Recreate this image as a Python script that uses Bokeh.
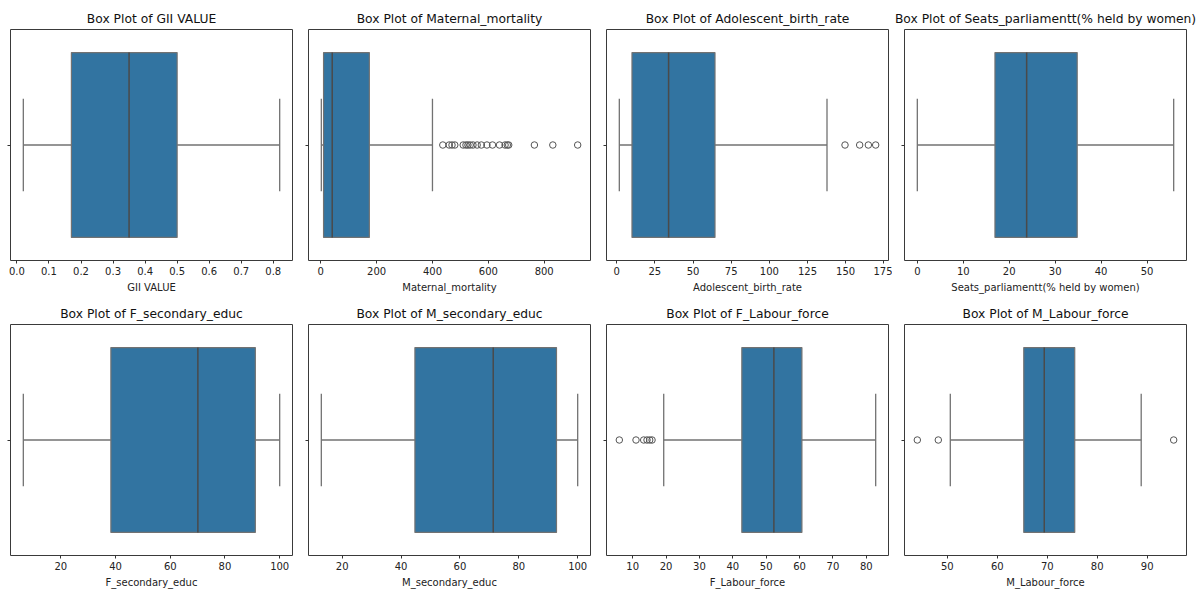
from bokeh.plotting import figure
from bokeh.layouts import gridplot
from bokeh.models import Range1d, FixedTicker, PrintfTickFormatter, ColumnDataSource
from bokeh.embed import file_html
from bokeh.resources import INLINE

# ---- data ----
names = ["GII VALUE", "Maternal_mortality", "Adolescent_birth_rate",
         "Seats_parliamentt(% held by women)", "F_secondary_educ",
         "M_secondary_educ", "F_Labour_force", "M_Labour_force"]
whisker_low = [0.02, 2, 1.7, 0.0, 6.3, 12.9, 19.3, 50.6]
q1 = [0.17, 10, 10, 16.9, 38.3, 44.7, 42.7, 65.3]
median = [0.35, 41, 34, 23.8, 70.1, 71.3, 52.3, 69.4]
q3 = [0.50, 174, 64.4, 34.8, 91.1, 92.8, 60.7, 75.5]
whisker_high = [0.82, 400, 137.8, 55.8, 100, 100, 82.8, 88.8]
outliers = [
    [],
    [437, 460, 470, 480, 510, 520, 527, 535, 545, 560, 575, 595, 615, 640,
     660, 668, 673, 765, 831, 920],
    [149.6, 159.2, 164.9, 169.7],
    [],
    [],
    [],
    [6.0, 11.0, 13.3, 14.3, 15.1, 15.8],
    [44.0, 48.2, 95.3],
]
ticks = [
    [0.0, 0.1, 0.2, 0.3, 0.4, 0.5, 0.6, 0.7, 0.8],
    [0, 200, 400, 600, 800],
    [0, 25, 50, 75, 100, 125, 150, 175],
    [0, 10, 20, 30, 40, 50],
    [20, 40, 60, 80, 100],
    [20, 40, 60, 80, 100],
    [10, 20, 30, 40, 50, 60, 70, 80],
    [50, 60, 70, 80, 90],
]
tick_formats = ["%.1f", "%d", "%d", "%d", "%d", "%d", "%d", "%d"]

BOX = "#3274a1"
LINE = "#4a4a4a"
WHISK = "#727272"
FONT = "DejaVu Sans"

# per-column figure geometry: (width, left border, right border)
col_geom = [(297, 10, 5), (297, 11, 4), (298, 12, 4), (307, 12, 13)]

figs = []
for i, name in enumerate(names):
    w, lb, rb = col_geom[i % 4]
    allvals = [whisker_low[i], whisker_high[i]] + outliers[i]
    lo, hi = min(allvals), max(allvals)
    pad = (hi - lo) * 0.05
    p = figure(width=w, height=295, output_backend="svg", toolbar_location=None,
               x_range=Range1d(lo - pad, hi + pad), y_range=Range1d(0.5, -0.5),
               min_border_left=lb, min_border_right=rb, min_border_top=29,
               min_border_bottom=32, title="Box Plot of " + name)
    p.title.align = "center"
    p.title.text_font = FONT
    p.title.text_font_size = "12.3px"
    p.title.text_font_style = "normal"
    p.title.text_color = "#111111"
    p.title.standoff = 7
    p.xgrid.visible = False
    p.ygrid.visible = False
    p.outline_line_color = "#3a3a3a"
    p.outline_line_width = 1
    p.background_fill_color = "white"
    p.border_fill_color = "white"

    xa = p.xaxis[0]
    xa.ticker = FixedTicker(ticks=ticks[i])
    xa.formatter = PrintfTickFormatter(format=tick_formats[i])
    xa.axis_label = name
    xa.axis_label_text_font = FONT
    xa.axis_label_text_font_size = "10px"
    xa.axis_label_text_font_style = "normal"
    xa.axis_label_text_color = "#222222"
    xa.axis_label_standoff = 4
    xa.major_label_text_font = FONT
    xa.major_label_text_font_size = "10px"
    xa.major_label_text_color = "#222222"
    xa.major_label_standoff = 3
    xa.axis_line_color = None
    xa.major_tick_out = 3
    xa.major_tick_in = 0
    xa.major_tick_line_color = "#333333"
    xa.minor_tick_line_color = None

    ya = p.yaxis[0]
    ya.ticker = FixedTicker(ticks=[0])
    ya.major_label_overrides = {0: ""}
    ya.major_label_standoff = 0
    ya.axis_line_color = None
    ya.major_tick_out = 3
    ya.major_tick_in = 0
    ya.major_tick_line_color = "#333333"
    ya.minor_tick_line_color = None

    # whiskers
    p.segment(x0=[whisker_low[i], q3[i]], y0=[0, 0], x1=[q1[i], whisker_high[i]], y1=[0, 0],
              line_color=WHISK, line_width=1.3)
    # caps
    p.segment(x0=[whisker_low[i], whisker_high[i]], y0=[-0.2, -0.2],
              x1=[whisker_low[i], whisker_high[i]], y1=[0.2, 0.2],
              line_color=WHISK, line_width=1.3)
    # box
    p.quad(left=[q1[i]], right=[q3[i]], bottom=[-0.4], top=[0.4],
           fill_color=BOX, line_color=WHISK, line_width=1.2)
    # median
    p.segment(x0=[median[i]], y0=[-0.4], x1=[median[i]], y1=[0.4],
              line_color=LINE, line_width=1.5)
    # outliers
    if outliers[i]:
        src = ColumnDataSource(dict(x=outliers[i], y=[0] * len(outliers[i])))
        p.scatter(x="x", y="y", source=src, marker="circle", size=6.5,
                  fill_color=None, line_color="#555555", line_width=1)
    figs.append(p)

grid = gridplot(figs, ncols=4, toolbar_location=None)
open("out.html", "w").write(file_html(grid, INLINE))
